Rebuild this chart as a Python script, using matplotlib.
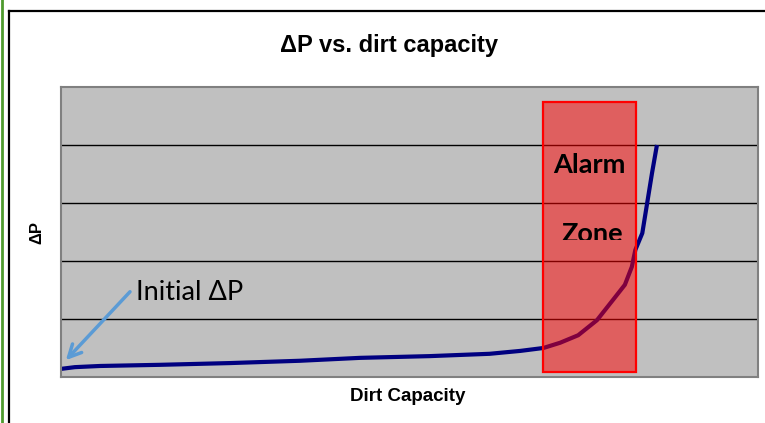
import matplotlib.pyplot as plt
from matplotlib.lines import Line2D
from matplotlib.patches import Rectangle
from matplotlib.transforms import Bbox, TransformedBbox

# curve (x: dirt capacity 0..100, y: delta P 0..5)
dirt = [0, 2.0, 5.6, 14.2, 24.2, 34.3, 42.9, 52.9, 61.5, 65.9, 69.2, 71.6,
        74.2, 76.9, 79.2, 80.9, 81.9, 82.4, 83.4, 84.1, 84.8, 85.5]
dp = [0.14, 0.17, 0.19, 0.21, 0.24, 0.28, 0.33, 0.36, 0.40, 0.45, 0.50, 0.59,
      0.72, 0.98, 1.33, 1.59, 1.90, 2.19, 2.48, 3.00, 3.52, 4.00]
zone_x = [69.2, 82.5]
zone_y = [0.09, 4.74]

fig = plt.figure(figsize=(7.65, 4.23), dpi=100)
W, H = 765.0, 423.0

def px(x, y):
    return x / W, 1 - y / H

# outer chart frame and the green line at the far left
fig.add_artist(Line2D([1.5 / W, 1.5 / W], [0, 1], color='#4E9A2E', lw=2))
fig.add_artist(Line2D([8.5 / W, 8.5 / W], [0, 1 - 11 / H], color='black', lw=1.6))
fig.add_artist(Line2D([8.5 / W, 1], [1 - 11 / H, 1 - 11 / H], color='black', lw=1.6))

ax = fig.add_axes([61 / W, 1 - 377 / H, 697 / W, 290 / H])
ax.set_facecolor('#C0C0C0')
ax.set_xlim(0, 100)
ax.set_ylim(0, 5)
ax.set_xticks([])
ax.set_yticks([])
for s in ax.spines.values():
    s.set_color('#808080')
    s.set_linewidth(1.5)
for g in [1, 2, 3, 4]:
    ax.axhline(g, color='black', lw=1.0, zorder=1)

ax.plot(dirt, dp, color='#000080', lw=3, zorder=2, solid_capstyle='butt')

ax.add_patch(Rectangle((zone_x[0], zone_y[0]), zone_x[1] - zone_x[0], zone_y[1] - zone_y[0],
                       facecolor=(1, 0, 0, 0.5), edgecolor='#FF0000', lw=1.6, zorder=3))

ax.text(75.8, 3.52, 'Alarm', family=['Lato', 'DejaVu Sans'], weight='bold', fontsize=19.5,
        ha='center', va='baseline', zorder=4)
zone = ax.text(76.3, 2.33, 'Zone', family=['Lato', 'DejaVu Sans'], weight='bold', fontsize=19.5,
               ha='center', va='baseline', zorder=4)
# the label box cuts the bottom of "Zone" in the original
zone.set_clip_box(TransformedBbox(Bbox([[60, 2.36], [90, 5]]), ax.transData))
zone.set_clip_on(True)

ax.annotate('', xy=(0.7, 0.29), xytext=(9.9, 1.47),
            arrowprops=dict(arrowstyle='->,head_length=0.9,head_width=0.45',
                            color='#5B9BD5', lw=2.5, shrinkA=0, shrinkB=0))
ax.text(10.8, 1.33, 'Initial \u0394P', family=['Lato', 'DejaVu Sans'], fontsize=19.5,
        ha='left', va='baseline')

fig.text(*px(389, 52), '\u0394P vs. dirt capacity', family='Liberation Sans', weight='bold',
         fontsize=17, ha='center', va='baseline')
fig.text(*px(408, 401), 'Dirt Capacity', family='Liberation Sans', weight='bold',
         fontsize=13.5, ha='center', va='baseline')
fig.text(*px(37, 232), '\u0394P', family='Liberation Sans', weight='bold',
         fontsize=12, ha='center', va='center', rotation=90)

fig.savefig('out.png', dpi=100)
